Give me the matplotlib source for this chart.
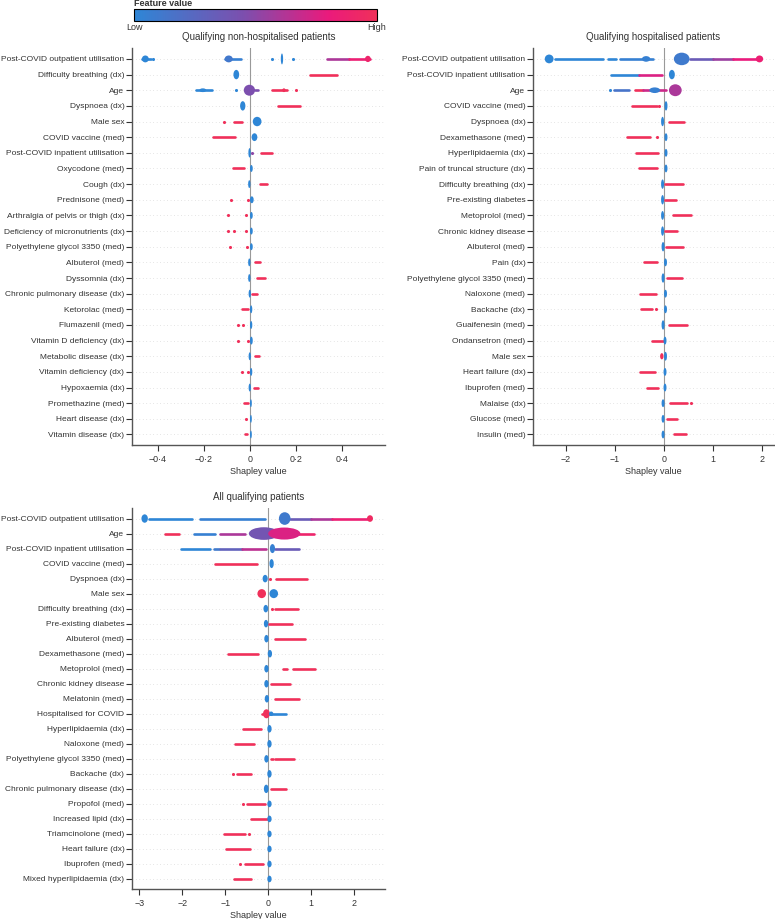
import matplotlib
matplotlib.use('Agg')
import matplotlib.pyplot as plt
from matplotlib.colors import LinearSegmentedColormap
from matplotlib.patches import Ellipse
from matplotlib.cm import ScalarMappable

plt.rcParams['font.family'] = ['Liberation Sans Narrow', 'Liberation Sans', 'DejaVu Sans']

# strips: (x start, x end, feature value 0-1); piles: dense clusters (x start, x end, feature value, half height in rows)
nonhosp_features = ['Post-COVID outpatient utilisation', 'Difficulty breathing (dx)', 'Age', 'Dyspnoea (dx)',
                    'Male sex', 'COVID vaccine (med)', 'Post-COVID inpatient utilisation', 'Oxycodone (med)',
                    'Cough (dx)', 'Prednisone (med)', 'Arthralgia of pelvis or thigh (dx)',
                    'Deficiency of micronutrients (dx)', 'Polyethylene glycol 3350 (med)', 'Albuterol (med)',
                    'Dyssomnia (dx)', 'Chronic pulmonary disease (dx)', 'Ketorolac (med)', 'Flumazenil (med)',
                    'Vitamin D deficiency (dx)', 'Metabolic disease (dx)', 'Vitamin deficiency (dx)',
                    'Hypoxaemia (dx)', 'Promethazine (med)', 'Heart disease (dx)', 'Vitamin disease (dx)']
nonhosp_strips = [
    [(-0.47, -0.43, 0), (-0.42, -0.42, 0), (-0.11, -0.04, 0.05), (0.096, 0.096, 0), (0.187, 0.187, 0),
     (0.335, 0.43, 0.6), (0.43, 0.52, 0.85)],
    [(0.26, 0.38, 1)],
    [(-0.235, -0.165, 0), (-0.06, -0.06, 0), (0.022, 0.035, 0.45), (0.096, 0.16, 1), (0.2, 0.2, 1)],
    [(0.122, 0.217, 1)],
    [(-0.115, -0.115, 1), (-0.071, -0.035, 1)],
    [(-0.16, -0.065, 1)],
    [(0.01, 0.01, 0.5), (0.048, 0.094, 1)],
    [(-0.072, -0.026, 1)],
    [(0.043, 0.072, 1)],
    [(-0.083, -0.083, 1), (-0.01, -0.01, 1)],
    [(-0.094, -0.094, 1), (-0.019, -0.019, 1)],
    [(-0.094, -0.094, 1), (-0.068, -0.068, 1), (-0.017, -0.017, 1)],
    [(-0.087, -0.087, 1), (-0.015, -0.015, 1)],
    [(0.022, 0.043, 1)],
    [(0.029, 0.065, 1)],
    [(0.01, 0.032, 1)],
    [(-0.036, -0.007, 1)],
    [(-0.051, -0.051, 1), (-0.029, -0.029, 1)],
    [(-0.051, -0.051, 1), (-0.007, -0.007, 1)],
    [(0.022, 0.039, 1)],
    [(-0.036, -0.036, 1), (-0.007, -0.007, 1)],
    [(0.019, 0.033, 1)],
    [(-0.025, -0.007, 1)],
    [(-0.019, -0.019, 1)],
    [(-0.022, -0.015, 1)],
]
nonhosp_piles = [
    [(-0.47, -0.44, 0, 0.22), (-0.11, -0.075, 0.12, 0.22), (0.134, 0.144, 0, 0.35), (0.5, 0.525, 0.9, 0.2)],
    [(-0.072, -0.047, 0, 0.3)],
    [(-0.22, -0.19, 0, 0.12), (-0.027, 0.022, 0.45, 0.35), (0.14, 0.155, 1, 0.12)],
    [(-0.043, -0.02, 0, 0.3)],
    [(0.012, 0.05, 0, 0.3)],
    [(0.007, 0.032, 0, 0.25)],
    [(-0.007, 0.003, 0, 0.3)],
    [(0.0, 0.012, 0, 0.22)],
    [(-0.008, 0.002, 0, 0.25)],
    [(0.0, 0.016, 0, 0.22)],
    [(0.0, 0.012, 0, 0.22)],
    [(0.0, 0.012, 0, 0.22)],
    [(0.0, 0.012, 0, 0.22)],
    [(-0.008, 0.002, 0, 0.25)],
    [(-0.008, 0.002, 0, 0.25)],
    [(-0.006, 0.004, 0, 0.25)],
    [(0.0, 0.01, 0, 0.25)],
    [(0.0, 0.01, 0, 0.25)],
    [(0.0, 0.012, 0, 0.25)],
    [(-0.006, 0.004, 0, 0.25)],
    [(0.0, 0.01, 0, 0.25)],
    [(-0.006, 0.004, 0, 0.25)],
    [(0.0, 0.008, 0, 0.25)],
    [(0.0, 0.008, 0, 0.25)],
    [(0.0, 0.008, 0, 0.25)],
]

hosp_features = ['Post-COVID outpatient utilisation', 'Post-COVID inpatient utilisation', 'Age',
                 'COVID vaccine (med)', 'Dyspnoea (dx)', 'Dexamethasone (med)', 'Hyperlipidaemia (dx)',
                 'Pain of truncal structure (dx)', 'Difficulty breathing (dx)', 'Pre-existing diabetes',
                 'Metoprolol (med)', 'Chronic kidney disease', 'Albuterol (med)', 'Pain (dx)',
                 'Polyethylene glycol 3350 (med)', 'Naloxone (med)', 'Backache (dx)', 'Guaifenesin (med)',
                 'Ondansetron (med)', 'Male sex', 'Heart failure (dx)', 'Ibuprofen (med)', 'Malaise (dx)',
                 'Glucose (med)', 'Insulin (med)']
hosp_strips = [
    [(-2.23, -1.24, 0), (-1.14, -0.97, 0), (-0.9, -0.22, 0.05), (0.52, 1.0, 0.35), (1.0, 1.41, 0.55),
     (1.41, 1.9, 0.8)],
    [(-1.08, -0.5, 0), (-0.5, -0.05, 0.75)],
    [(-1.11, -1.11, 0), (-1.01, -0.71, 0.15), (-0.6, -0.43, 1), (-0.43, 0.03, 0.7)],
    [(-0.66, -0.15, 1), (-0.1, -0.1, 1)],
    [(0.11, 0.41, 1)],
    [(-0.75, -0.29, 1), (-0.15, -0.15, 1)],
    [(-0.57, -0.13, 1)],
    [(-0.5, -0.15, 1)],
    [(0.02, 0.39, 1)],
    [(0.02, 0.24, 1)],
    [(0.18, 0.55, 1)],
    [(0.02, 0.27, 1)],
    [(0.05, 0.38, 1)],
    [(-0.4, -0.15, 1)],
    [(0.07, 0.37, 1)],
    [(-0.48, -0.17, 1)],
    [(-0.46, -0.24, 1), (-0.16, -0.16, 1)],
    [(0.1, 0.46, 1)],
    [(-0.24, 0.0, 1)],
    [],
    [(-0.48, -0.18, 1)],
    [(-0.35, -0.13, 1)],
    [(0.12, 0.46, 1), (0.55, 0.55, 1)],
    [(0.07, 0.26, 1)],
    [(0.21, 0.45, 1)],
]
hosp_piles = [
    [(-2.43, -2.25, 0, 0.28), (-0.45, -0.28, 0.05, 0.18), (0.2, 0.52, 0.1, 0.4), (1.87, 2.02, 0.85, 0.22)],
    [(0.1, 0.22, 0, 0.3)],
    [(-0.3, -0.08, 0.05, 0.18), (0.1, 0.36, 0.6, 0.38)],
    [(0.01, 0.07, 0, 0.3)],
    [(-0.06, 0.0, 0, 0.3)],
    [(0.01, 0.07, 0, 0.25)],
    [(0.01, 0.07, 0, 0.25)],
    [(0.01, 0.07, 0, 0.25)],
    [(-0.06, 0.0, 0, 0.3)],
    [(-0.06, 0.0, 0, 0.3)],
    [(-0.06, 0.0, 0, 0.28)],
    [(-0.06, 0.0, 0, 0.3)],
    [(-0.05, 0.01, 0, 0.3)],
    [(0.0, 0.06, 0, 0.25)],
    [(-0.05, 0.01, 0, 0.3)],
    [(0.0, 0.06, 0, 0.25)],
    [(0.0, 0.06, 0, 0.25)],
    [(-0.05, 0.01, 0, 0.3)],
    [(-0.01, 0.05, 0, 0.25)],
    [(-0.08, -0.01, 1, 0.2), (0.0, 0.06, 0, 0.28)],
    [(-0.01, 0.05, 0, 0.25)],
    [(-0.01, 0.05, 0, 0.25)],
    [(-0.05, 0.01, 0, 0.25)],
    [(-0.05, 0.01, 0, 0.25)],
    [(-0.05, 0.01, 0, 0.25)],
]

all_features = ['Post-COVID outpatient utilisation', 'Age', 'Post-COVID inpatient utilisation',
                'COVID vaccine (med)', 'Dyspnoea (dx)', 'Male sex', 'Difficulty breathing (dx)',
                'Pre-existing diabetes', 'Albuterol (med)', 'Dexamethasone (med)', 'Metoprolol (med)',
                'Chronic kidney disease', 'Melatonin (med)', 'Hospitalised for COVID', 'Hyperlipidaemia (dx)',
                'Naloxone (med)', 'Polyethylene glycol 3350 (med)', 'Backache (dx)',
                'Chronic pulmonary disease (dx)', 'Propofol (med)', 'Increased lipid (dx)',
                'Triamcinolone (med)', 'Heart failure (dx)', 'Ibuprofen (med)', 'Mixed hyperlipidaemia (dx)']
all_strips = [
    [(-2.78, -1.77, 0), (-1.58, -0.07, 0.05), (0.51, 1.0, 0.35), (1.0, 1.48, 0.6), (1.48, 2.3, 0.85)],
    [(-2.39, -2.08, 1), (-1.73, -1.23, 0.05), (-1.11, -0.53, 0.6), (0.7, 1.06, 0.9)],
    [(-2.02, -1.35, 0), (-1.25, -1.15, 0.1), (-1.11, -0.6, 0.3), (-0.6, -0.04, 0.65), (0.17, 0.71, 0.35)],
    [(-1.23, -0.26, 1)],
    [(0.04, 0.04, 1), (0.18, 0.91, 1)],
    [],
    [(0.1, 0.1, 1), (0.17, 0.7, 1)],
    [(0.03, 0.55, 1)],
    [(0.17, 0.86, 1)],
    [(-0.94, -0.24, 1)],
    [(0.34, 0.43, 1), (0.57, 1.09, 1)],
    [(0.06, 0.51, 1)],
    [(0.17, 0.71, 1)],
    [(-0.15, -0.08, 1), (0.03, 0.41, 0)],
    [(-0.58, -0.17, 1)],
    [(-0.77, -0.32, 1)],
    [(0.06, 0.11, 1), (0.17, 0.59, 1)],
    [(-0.81, -0.81, 1), (-0.73, -0.4, 1)],
    [(0.06, 0.41, 1)],
    [(-0.58, -0.58, 1), (-0.5, -0.07, 1)],
    [(-0.41, -0.03, 1)],
    [(-1.03, -0.54, 1), (-0.44, -0.44, 1)],
    [(-0.98, -0.42, 1)],
    [(-0.66, -0.66, 1), (-0.54, -0.11, 1)],
    [(-0.79, -0.41, 1)],
]
all_piles = [
    [(-2.95, -2.8, 0, 0.28), (0.25, 0.52, 0.1, 0.42), (2.3, 2.44, 0.95, 0.22)],
    [(-0.45, 0.25, 0.4, 0.42), (0.0, 0.75, 0.75, 0.4)],
    [(0.04, 0.16, 0.05, 0.3)],
    [(0.03, 0.13, 0, 0.3)],
    [(-0.13, -0.01, 0, 0.25)],
    [(-0.25, -0.05, 1, 0.3), (0.03, 0.23, 0, 0.3)],
    [(-0.11, 0.0, 0, 0.25)],
    [(-0.1, 0.0, 0, 0.25)],
    [(-0.09, 0.01, 0, 0.25)],
    [(-0.01, 0.09, 0, 0.25)],
    [(-0.09, 0.01, 0, 0.25)],
    [(-0.09, 0.01, 0, 0.25)],
    [(-0.08, 0.02, 0, 0.25)],
    [(-0.12, 0.04, 1, 0.3), (0.02, 0.12, 0, 0.15)],
    [(-0.02, 0.08, 0, 0.25)],
    [(-0.02, 0.08, 0, 0.25)],
    [(-0.09, 0.01, 0, 0.25)],
    [(-0.02, 0.08, 0, 0.25)],
    [(-0.1, 0.01, 0, 0.28)],
    [(-0.02, 0.08, 0, 0.22)],
    [(-0.02, 0.08, 0, 0.22)],
    [(-0.02, 0.08, 0, 0.22)],
    [(-0.02, 0.08, 0, 0.22)],
    [(-0.02, 0.08, 0, 0.22)],
    [(-0.02, 0.08, 0, 0.22)],
]

cmap = LinearSegmentedColormap.from_list(
    'shap', [(0, '#2e86d6'), (0.45, '#7c4fae'), (0.8, '#ea1a7c'), (1, '#f0305a')])


def draw_panel(ax, features, strips, piles, title, xlim, ticks, ticklabels):
    n = len(features)
    for i in range(n):
        y = n - 1 - i
        ax.axhline(y, color='#cccccc', lw=0.5, dashes=(1, 4), zorder=0)
        for x0, x1, v in strips[i]:
            c = cmap(float(v))
            if x0 == x1:
                ax.scatter([x0], [y], s=5, color=c, lw=0, zorder=2)
            else:
                ax.hlines(y, x0, x1, color=c, lw=1.9, capstyle='round', zorder=2)
        for x0, x1, v, h in piles[i]:
            ax.add_patch(Ellipse(((x0 + x1) / 2, y), x1 - x0, 2 * h, color=cmap(float(v)), lw=0, zorder=3))
    ax.axvline(0, color='#999999', lw=0.8, zorder=1)
    ax.set_xlim(*xlim)
    ax.set_ylim(-0.67, n - 0.3)
    ax.set_yticks(range(n))
    ax.set_yticklabels(features[::-1])
    ax.set_xticks(ticks)
    ax.set_xticklabels(ticklabels)
    ax.tick_params(axis='both', labelsize=6.4, colors='#333333', length=4, width=0.8)
    ax.tick_params(axis='y', pad=1.5, labelsize=6.0)
    for s in ['top', 'right']:
        ax.spines[s].set_visible(False)
    for s in ['left', 'bottom']:
        ax.spines[s].set_color('#555555')
        ax.spines[s].set_linewidth(1)
    ax.set_title(title, fontsize=7, color='#333333', pad=6)
    ax.set_xlabel('Shapley value', fontsize=6.5, color='#333333', labelpad=2)


fig = plt.figure(figsize=(7.75, 9.19), dpi=100)

ax1 = fig.add_axes([0.1703, 0.5158, 0.3265, 0.4320])
draw_panel(ax1, nonhosp_features, nonhosp_strips, nonhosp_piles, 'Qualifying non-hospitalised patients',
           (-0.513, 0.587), [-0.4, -0.2, 0, 0.2, 0.4], ['\u22120\u00b74', '\u22120\u00b72', '0', '0\u00b72', '0\u00b74'])

ax2 = fig.add_axes([0.6877, 0.5158, 0.311, 0.4320])
draw_panel(ax2, hosp_features, hosp_strips, hosp_piles, 'Qualifying hospitalised patients',
           (-2.67, 2.24), [-2, -1, 0, 1, 2], ['\u22122', '\u22121', '0', '1', '2'])

ax3 = fig.add_axes([0.1703, 0.0326, 0.3265, 0.4146])
draw_panel(ax3, all_features, all_strips, all_piles, 'All qualifying patients',
           (-3.17, 2.72), [-3, -2, -1, 0, 1, 2], ['\u22123', '\u22122', '\u22121', '0', '1', '2'])

cax = fig.add_axes([0.173, 0.9775, 0.3135, 0.0124])
sm = ScalarMappable(cmap=cmap)
sm.set_array([0, 1])
cb = fig.colorbar(sm, cax=cax, orientation='horizontal', ticks=[])
cb.outline.set_linewidth(0.8)
cax.text(0, 1.08, 'Feature value', transform=cax.transAxes, fontsize=6.5, fontweight='bold',
         color='#333333', ha='left', va='bottom')
cax.text(0, -0.2, 'Low', transform=cax.transAxes, fontsize=6.5, color='#333333', ha='center', va='top')
cax.text(1, -0.2, 'High', transform=cax.transAxes, fontsize=6.5, color='#333333', ha='center', va='top')

fig.savefig('out.png', dpi=100)
